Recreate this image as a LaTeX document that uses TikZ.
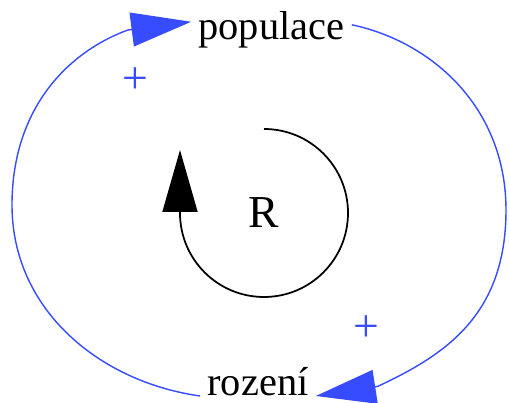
\documentclass[tikz,border=0pt]{standalone}
\usepackage{fontspec}
\setmainfont{Liberation Serif}
\usetikzlibrary{arrows.meta}
\definecolor{loopblue}{RGB}{55,75,255}

\begin{document}
\begin{tikzpicture}[>=Latex,
  word/.style={inner sep=4pt,font=\fontsize{23}{28}\selectfont},
  link/.style={draw=loopblue,line width=0.8pt,-{Triangle[length=1.2cm,width=0.68cm,fill=loopblue]}},
  sign/.style={text=loopblue,inner sep=0pt,font=\fontsize{26}{30}\selectfont}]
\useasboundingbox (0,0) rectangle (10.18,8.06);
\node[word,anchor=base] (pop) at (5.43,7.26) {populace};
\node[word,anchor=base] (roz) at (5.16,0.14) {rození};
\node[inner sep=0pt,font=\fontsize{26}{30}\selectfont] (R) at (5.28,3.80) {R};
\node[sign] (plusA) at (2.70,6.44) {+};
\node[sign] (plusB) at (7.32,1.48) {+};
\coordinate (leftmid) at (0.24,3.96);
\coordinate (popbase) at (2.56,7.46);
\coordinate (rightmid) at (10.12,3.86);
\coordinate (rozbase) at (7.55,0.33);

\draw[link] (roz.base west) .. controls +(172:2.04) and +(-90:2.09) .. (leftmid)
  .. controls +(90:1.93) and +(200:1.28) .. (popbase) -- ([yshift=0.17cm]pop.west);
\draw[link] ([yshift=0.11cm]pop.east) .. controls +(-12:1.65) and +(90:2.04) .. (rightmid)
  .. controls +(-90:2.1) and +(25:1.5) .. (rozbase) -- (roz.base east);
\draw[line width=1pt,-{Triangle[length=1.24cm,width=0.7cm]}] ([yshift=1.68cm]R.center) arc[start angle=90,end angle=-180,radius=1.68cm] -- ++(0,1.26);
\end{tikzpicture}
\end{document}
